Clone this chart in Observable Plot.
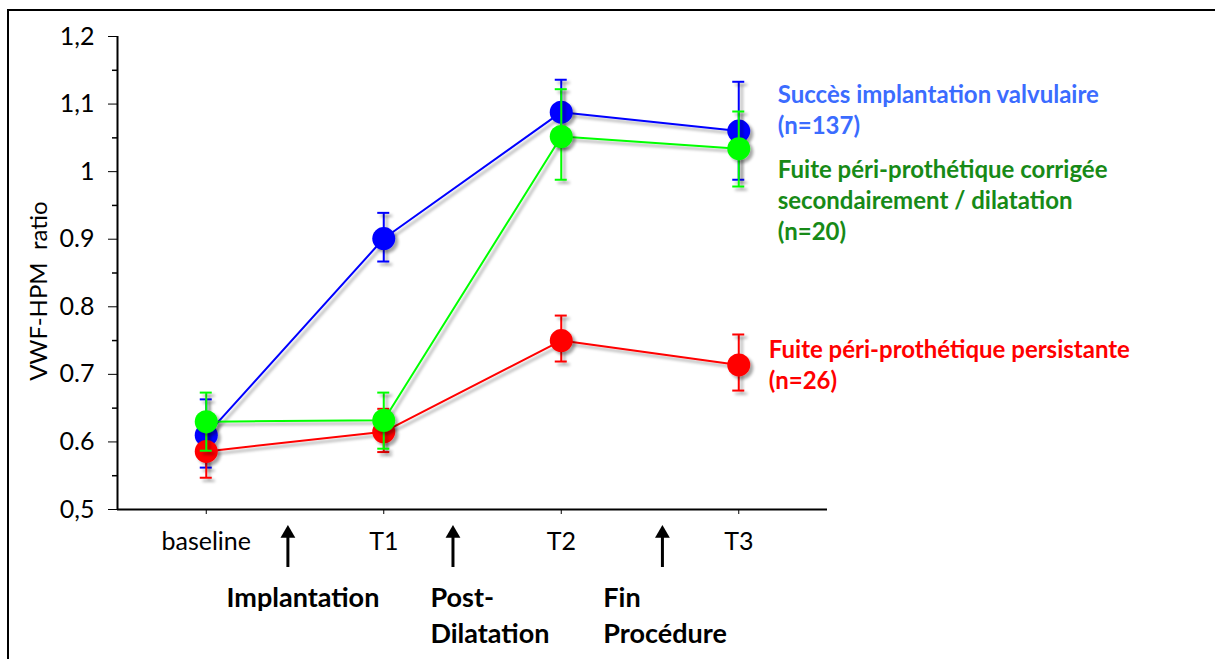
<!DOCTYPE html>
<html>
<head>
<meta charset="utf-8">
<script src="https://cdn.jsdelivr.net/npm/d3@7"></script>
<script src="https://cdn.jsdelivr.net/npm/@observablehq/plot@0.6"></script>
<style>
  body { margin: 0; background: #fff; }
  #wrap { position: relative; width: 1215px; height: 659px; overflow: hidden; background: #fff; }
  #wrap svg { position: absolute; left: 0; top: 0; }
  #border { position: absolute; left: 7px; top: 9px; right: -10px; bottom: -10px;
            border-top: 2px solid #000; border-left: 2px solid #000; }
</style>
</head>
<body>
<div id="wrap"><div id="border"></div></div>
<script>
// Time points of the procedure
const timepoints = ["baseline", "T1", "T2", "T3"];

// Y axis ticks (labels kept as printed)
const yTickValues = [0.5, 0.6, 0.7, 0.8, 0.9, 1.0, 1.1, 1.2];
const yTickLabels = ["0,5", "0.6", "0.7", "0.8", "0.9", "1", "1,1", "1,2"];
const yMinorTicks = [0.55, 0.65, 0.75, 0.85, 0.95, 1.05, 1.15];

// VWF-HPM ratio: mean and error bar bounds per group
const succesMean = [0.610, 0.901, 1.088, 1.060];
const succesLow  = [0.562, 0.867, 1.039, 0.988];
const succesHigh = [0.663, 0.939, 1.136, 1.133];

const corrigeeMean = [0.630, 0.632, 1.052, 1.034];
const corrigeeLow  = [0.587, 0.590, 0.988, 0.978];
const corrigeeHigh = [0.673, 0.673, 1.122, 1.089];

const persistanteMean = [0.586, 0.615, 0.750, 0.714];
const persistanteLow  = [0.547, 0.585, 0.719, 0.676];
const persistanteHigh = [0.625, 0.649, 0.787, 0.759];

// Group names and sizes
const groupNames = [
  "Succès implantation valvulaire",
  "Fuite péri-prothétique corrigée\nsecondairement / dilatation",
  "Fuite péri-prothétique persistante"
];
const groupN = [137, 20, 26];

// Procedure steps between time points
const procedureSteps = ["Implantation", "Post-\nDilatation", "Fin\nProcédure"];
const stepArrowAt = [0.46, 1.39, 2.57];
const stepTextAt  = [0.114, 1.263, 2.237];

const groups = [
  {name: groupNames[0], n: groupN[0], mean: succesMean, low: succesLow, high: succesHigh,
   color: "#0000ff", text: "#3b6cff", labelY: 1.094, dx: 39},
  {name: groupNames[2], n: groupN[2], mean: persistanteMean, low: persistanteLow, high: persistanteHigh,
   color: "#ff0000", text: "#ff0000", labelY: 0.716, dx: 30},
  {name: groupNames[1], n: groupN[1], mean: corrigeeMean, low: corrigeeLow, high: corrigeeHigh,
   color: "#00ff00", text: "#178a17", labelY: 0.9595, dx: 39}
];

const tickLabel = new Map(yTickValues.map((v, i) => [v, yTickLabels[i]]));

const seriesMarks = groups.flatMap(g => {
  const rows = timepoints.map((t, i) => ({i, mean: g.mean[i], low: g.low[i], high: g.high[i]}));
  return [
    Plot.line(rows, {x: "i", y: "mean", stroke: g.color, strokeWidth: 2}),
    Plot.ruleX(rows, {x: "i", y1: "low", y2: "high", stroke: g.color, strokeWidth: 2}),
    Plot.ruleY(rows, {y: "high", x1: "i", x2: "i", insetLeft: -6, insetRight: -6, stroke: g.color, strokeWidth: 2}),
    Plot.ruleY(rows, {y: "low", x1: "i", x2: "i", insetLeft: -6, insetRight: -6, stroke: g.color, strokeWidth: 2}),
    Plot.dot(rows, {x: "i", y: "mean", r: 11.5, fill: g.color, stroke: "none"})
  ];
});

const labelMarks = groups.map(g =>
  Plot.text([g], {
    x: 3, y: "labelY", text: d => `${d.name}\n(n=${d.n})`,
    dx: g.dx, textAnchor: "start", lineHeight: 1.29,
    fill: g.text, fontWeight: "bold", fontSize: 24
  })
);

const steps = procedureSteps.map((s, k) => ({label: s, arrow: stepArrowAt[k], at: stepTextAt[k]}));

const chart = Plot.plot({
  width: 1215,
  height: 659,
  marginLeft: 117,
  marginRight: 388,
  marginTop: 36,
  marginBottom: 150,
  style: {fontFamily: "Lato, 'Open Sans', sans-serif", fontSize: "25px", color: "#000", background: "transparent"},
  x: {domain: [-0.5, 3.5], ticks: [0, 1, 2, 3], tickFormat: i => timepoints[i], tickSize: 5, tickPadding: 18, label: null},
  y: {domain: [0.5, 1.2], ticks: yTickValues, tickFormat: d => tickLabel.get(d), tickSize: 9, tickPadding: 14, label: null},
  marks: [
    Plot.ruleY(yMinorTicks, {x1: -0.5, x2: -0.5, insetLeft: -5, stroke: "#000", strokeWidth: 1.5}),
    Plot.ruleY([0.5], {stroke: "#000", strokeWidth: 2}),
    Plot.ruleX([-0.5], {stroke: "#000", strokeWidth: 2}),
    Plot.text(["VWF-HPM\u00a0 ratio"], {frameAnchor: "left", textAnchor: "middle", dx: -78, dy: 18, rotate: -90, fontSize: 24}),
    ...seriesMarks,
    ...labelMarks,
    // procedure arrows below the time axis
    Plot.ruleX(steps, {x: "arrow", frameAnchor: "bottom", insetTop: 500, insetBottom: -58, stroke: "#000", strokeWidth: 3}),
    Plot.dot(steps, {x: "arrow", frameAnchor: "bottom", dy: 24, symbol: "triangle", r: 5.5, fill: "#000", stroke: "none"}),
    Plot.text(steps, {x: "at", frameAnchor: "bottom", dy: 73, text: "label", textAnchor: "start", lineAnchor: "top",
                      lineHeight: 1.3, fontWeight: "bold", fontSize: 27, fill: "#000"})
  ]
});

// soft drop shadow under the data marks
const svg = d3.select(chart);
svg.insert("defs", ":first-child").append("filter")
  .attr("id", "shadow").attr("filterUnits", "userSpaceOnUse")
  .attr("x", 0).attr("y", 0).attr("width", 1215).attr("height", 659)
  .append("feDropShadow")
  .attr("dx", 3).attr("dy", 3).attr("stdDeviation", 1.6)
  .attr("flood-color", "#000").attr("flood-opacity", 0.35);
svg.selectAll('g[aria-label="line"], g[aria-label="dot"]')
  .filter(function () { return !d3.select(this).selectAll("path[d]").empty() || !d3.select(this).selectAll("circle").empty(); })
  .attr("filter", "url(#shadow)");
svg.selectAll('g[aria-label="rule"]').each(function () {
  const s = d3.select(this).attr("stroke");
  if (s && s !== "#000" && s !== "black") d3.select(this).attr("filter", "url(#shadow)");
});
// keep the arrowheads free of shadow
svg.selectAll('g[aria-label="dot"]').filter(function () { return d3.select(this).attr("fill") === "#000"; })
  .attr("filter", null);

document.getElementById("wrap").appendChild(chart);
</script>
</body>
</html>
